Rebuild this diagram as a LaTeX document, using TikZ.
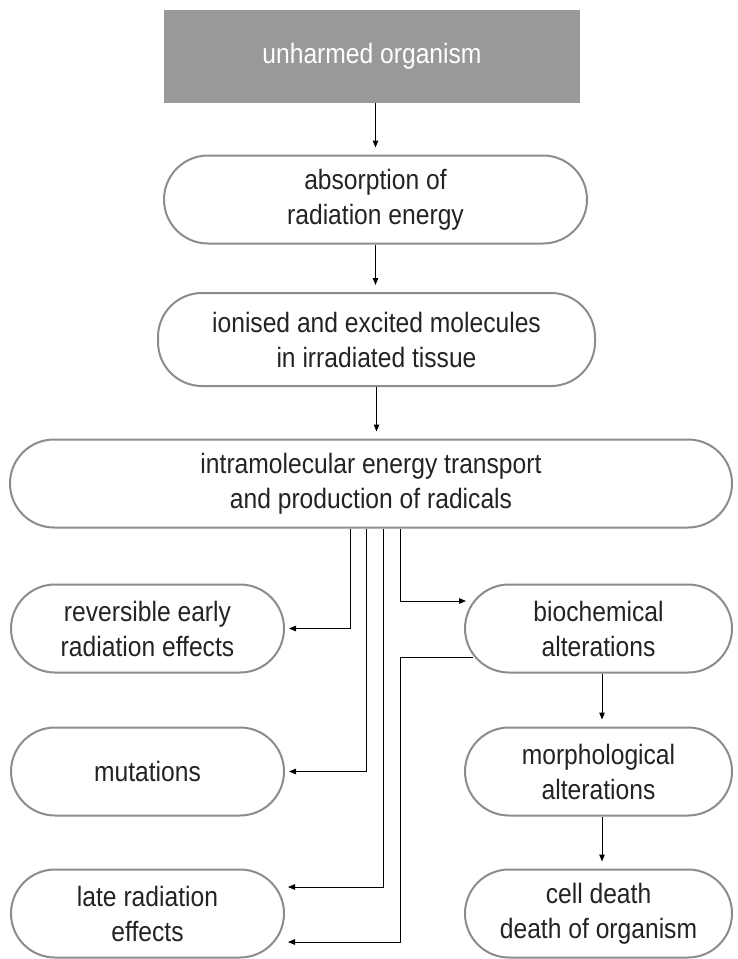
\documentclass[tikz,border=0pt]{standalone}
\usepackage{fontspec}
\setmainfont{Liberation Sans}[FakeStretch=0.88]
\usepackage{tikz}
\usetikzlibrary{arrows.meta}
\definecolor{rimgray}{RGB}{140,140,140}
\definecolor{headgray}{RGB}{153,153,153}
\definecolor{inkgray}{RGB}{35,35,35}

\begin{document}
\begin{tikzpicture}[x=1pt, y=-1pt, font=\fontsize{28}{35}\selectfont, text=inkgray,
  stage/.style={draw=rimgray, line width=2pt, rounded corners=44pt, align=center, minimum height=88pt, inner sep=0pt},
  arr/.style={-{Triangle[length=7pt,width=5.5pt]}, line width=1pt, black}]
\useasboundingbox (0,0) rectangle (737,959);
% main column
\node[fill=headgray, text=white, minimum width=416pt, minimum height=93pt, inner sep=0pt] (head) at (372,56.5) {unharmed organism};
\node[stage, minimum width=423pt] (absorb) at (375.5,199.5) {absorption of\\radiation energy};
\node[stage, minimum width=437pt, minimum height=93pt] (ionise) at (376.5,339.5) {ionised and excited molecules\\in irradiated tissue};
\node[stage, minimum width=722pt] (intra) at (371,483.5) {intramolecular energy transport\\and production of radicals};
% left column
\node[stage, minimum width=273pt] (early) at (147.5,628.5) {reversible early\\radiation effects};
\node[stage, minimum width=273pt] (mutate) at (147.5,771.5) {mutations};
\node[stage, minimum width=273pt] (late) at (147.5,913.5) {late radiation\\effects};
% right column
\node[stage, minimum width=267pt] (biochem) at (598.5,628.5) {biochemical\\alterations};
\node[stage, minimum width=267pt] (morph) at (598.5,771.5) {morphological\\alterations};
\node[stage, minimum width=267pt] (death) at (598.5,913.5) {cell death\\death of organism};

\draw[arr, shorten >=7pt] (head.south -| absorb) -- (absorb);
\draw[arr, shorten >=7pt] (absorb) -- (absorb |- ionise.north);
\draw[arr, shorten >=7pt] (ionise) -- (ionise |- intra.north);

\coordinate (k1) at (350,0);
\coordinate (k2) at (366,0);
\coordinate (k3) at (383,0);
\coordinate (k4) at (400,0);
\draw[arr] (intra.south -| k1) |- ([xshift=4pt]early.east);
\draw[arr] (intra.south -| k2) |- ([xshift=4pt]mutate.east);
\draw[arr] (intra.south -| k3) |- ([xshift=3pt,yshift=26.5pt]late.east);
\draw[arr] (intra.south -| k4) |- ([xshift=2pt,yshift=27.5pt]biochem.west);
\draw[arr] ([xshift=9pt,yshift=-28.5pt]biochem.west) -| (k4 |- 0,942) -- ([xshift=3pt,yshift=-28.5pt]late.east);

\draw[arr, shorten >=7pt] (biochem.south -| 602,0) -- (morph.north -| 602,0);
\draw[arr, shorten >=7pt] (morph.south -| 602,0) -- (death.north -| 602,0);
\end{tikzpicture}
\end{document}
